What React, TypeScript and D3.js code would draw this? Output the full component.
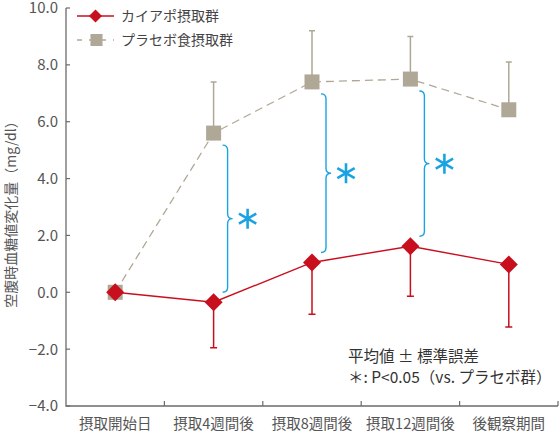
import { useEffect, useRef } from 'react';
import * as d3 from 'd3';

// values
const categories = ['摂取開始日', '摂取4週間後', '摂取8週間後', '摂取12週間後', '後観察期間'];
const kaiapoMean = [0, -0.35, 1.05, 1.62, 0.98];
const kaiapoErr = [0, 1.6, 1.82, 1.76, 2.2];
const placeboMean = [0, 5.6, 7.4, 7.5, 6.42];
const placeboErr = [0, 1.8, 1.8, 1.5, 1.68];
const yTicks = [-4, -2, 0, 2, 4, 6, 8, 10];
// indices of time points with a significant difference
const significant = [1, 2, 3];

const RED = '#c80f1e';
const GREY = '#b0a897';
const BLUE = '#1aa3e3';
const FONT = "'Noto Sans CJK JP', 'Noto Sans', sans-serif";

const App = () => {
  const svgRef = useRef<SVGSVGElement>(null);

  useEffect(() => {
    if (!svgRef.current) return;
    d3.select(svgRef.current).selectAll('*').remove();

    const width = 560;
    const height = 436;
    const svg = d3.select(svgRef.current).attr('width', width).attr('height', height);

    const x = d3.scaleBand<string>().domain(categories).range([66, 558]).padding(0);
    const cx = (i: number) => x(categories[i])! + x.bandwidth() / 2;
    const y = d3.scaleLinear().domain([-4, 10]).range([406, 8]);

    // axes
    const axisColor = '#6b6b6b';
    svg
      .append('path')
      .attr('d', `M${x.range()[0]},${y(10)}V${y(-4)}H${x.range()[1]}`)
      .attr('fill', 'none')
      .attr('stroke', axisColor)
      .attr('stroke-width', 1.3);

    svg
      .selectAll('.ytick')
      .data(yTicks)
      .enter()
      .append('line')
      .attr('x1', 66)
      .attr('x2', 70)
      .attr('y1', (d) => y(d))
      .attr('y2', (d) => y(d))
      .attr('stroke', axisColor)
      .attr('stroke-width', 1.2);

    svg
      .selectAll('.ylabel')
      .data(yTicks)
      .enter()
      .append('text')
      .attr('x', 58)
      .attr('y', (d) => y(d))
      .attr('dy', '0.36em')
      .attr('text-anchor', 'end')
      .attr('font-family', FONT)
      .attr('font-size', 15)
      .attr('fill', '#555')
      .text((d) => d3.format('.1f')(d));

    svg
      .selectAll('.xtick')
      .data(categories.slice(1).concat(['end']))
      .enter()
      .append('line')
      .attr('x1', (_, i) => x(categories[0])! + x.bandwidth() * (i + 1))
      .attr('x2', (_, i) => x(categories[0])! + x.bandwidth() * (i + 1))
      .attr('y1', y(-4))
      .attr('y2', y(-4) - 5)
      .attr('stroke', axisColor)
      .attr('stroke-width', 1.2);

    svg
      .selectAll('.xlabel')
      .data(categories)
      .enter()
      .append('text')
      .attr('x', (_, i) => cx(i))
      .attr('y', 424)
      .attr('dy', '0.36em')
      .attr('text-anchor', 'middle')
      .attr('font-family', FONT)
      .attr('font-size', 14.5)
      .attr('fill', '#555')
      .text((d) => d);

    svg
      .append('text')
      .attr('transform', `translate(11,211) rotate(-90)`)
      .attr('dy', '0.36em')
      .attr('text-anchor', 'middle')
      .attr('font-family', FONT)
      .attr('font-size', 14)
      .attr('fill', '#555')
      .text('空腹時血糖値変化量（mg/dl）');

    // placebo series
    const line = d3
      .line<number>()
      .x((_, i) => cx(i))
      .y((d) => y(d));

    svg
      .append('path')
      .attr('d', line(placeboMean))
      .attr('fill', 'none')
      .attr('stroke', GREY)
      .attr('stroke-width', 1.3)
      .attr('stroke-dasharray', '8,5');

    placeboMean.forEach((m, i) => {
      if (placeboErr[i] === 0) return;
      const top = y(m + placeboErr[i]);
      svg
        .append('path')
        .attr('d', `M${cx(i)},${y(m)}V${top}M${cx(i) - 3},${top}H${cx(i) + 3}`)
        .attr('stroke', GREY)
        .attr('stroke-width', 1.5)
        .attr('fill', 'none');
    });

    svg
      .selectAll('.sq')
      .data(placeboMean)
      .enter()
      .append('rect')
      .attr('x', (_, i) => cx(i) - 7.5)
      .attr('y', (d) => y(d) - 7.5)
      .attr('width', 15)
      .attr('height', 15)
      .attr('fill', GREY);

    // kaiapo series
    svg
      .append('path')
      .attr('d', line(kaiapoMean))
      .attr('fill', 'none')
      .attr('stroke', RED)
      .attr('stroke-width', 1.4);

    kaiapoMean.forEach((m, i) => {
      if (kaiapoErr[i] === 0) return;
      const bottom = y(m - kaiapoErr[i]);
      svg
        .append('path')
        .attr('d', `M${cx(i)},${y(m)}V${bottom}M${cx(i) - 3.5},${bottom}H${cx(i) + 3.5}`)
        .attr('stroke', RED)
        .attr('stroke-width', 1.5)
        .attr('fill', 'none');
    });

    const diamond = (px: number, py: number, r: number) =>
      `M${px},${py - r}L${px + r},${py}L${px},${py + r}L${px - r},${py}Z`;

    svg
      .selectAll('.dia')
      .data(kaiapoMean)
      .enter()
      .append('path')
      .attr('d', (d, i) => diamond(cx(i), y(d), 9))
      .attr('fill', RED);

    // significance braces and asterisks
    significant.forEach((i) => {
      const bx = cx(i) + 14;
      const top = y(placeboMean[i]) + 12;
      const bottom = y(kaiapoMean[i]) - 10;
      const mid = (top + bottom) / 2;
      const r = 5;
      const d =
        `M${bx - r},${top}Q${bx},${top} ${bx},${top + r}` +
        `V${mid - r}Q${bx},${mid} ${bx + r},${mid}` +
        `Q${bx},${mid} ${bx},${mid + r}` +
        `V${bottom - r}Q${bx},${bottom} ${bx - r},${bottom}`;
      svg
        .append('path')
        .attr('d', d)
        .attr('fill', 'none')
        .attr('stroke', BLUE)
        .attr('stroke-width', 1.4);

      const ax = bx + 20;
      const len = 10;
      const star = [90, 30, 150]
        .map((a) => {
          const rad = (a * Math.PI) / 180;
          const dx = Math.cos(rad) * len;
          const dy = Math.sin(rad) * len;
          return `M${ax - dx},${mid - dy}L${ax + dx},${mid + dy}`;
        })
        .join('');
      svg
        .append('path')
        .attr('d', star)
        .attr('stroke', BLUE)
        .attr('stroke-width', 2.6)
        .attr('fill', 'none');
    });

    // legend
    const legend = svg.append('g');
    legend
      .append('line')
      .attr('x1', 77)
      .attr('x2', 114)
      .attr('y1', 16)
      .attr('y2', 16)
      .attr('stroke', RED)
      .attr('stroke-width', 1.4);
    legend.append('path').attr('d', diamond(95.5, 16, 6.5)).attr('fill', RED);
    legend
      .append('line')
      .attr('x1', 77)
      .attr('x2', 114)
      .attr('y1', 40)
      .attr('y2', 40)
      .attr('stroke', GREY)
      .attr('stroke-width', 1.3)
      .attr('stroke-dasharray', '5,7');
    legend
      .append('rect')
      .attr('x', 90.5)
      .attr('y', 34)
      .attr('width', 12)
      .attr('height', 12)
      .attr('fill', GREY);
    legend
      .selectAll('text')
      .data(['カイアポ摂取群', 'プラセボ食摂取群'])
      .enter()
      .append('text')
      .attr('x', 121)
      .attr('y', (_, i) => 16 + i * 24)
      .attr('dy', '0.36em')
      .attr('font-family', FONT)
      .attr('font-size', 14)
      .attr('fill', '#444')
      .text((d) => d);

    // notes
    svg
      .selectAll('.note')
      .data(['平均値 ± 標準誤差', '＊: P<0.05（vs. プラセボ群）'])
      .enter()
      .append('text')
      .attr('x', 348)
      .attr('y', (_, i) => 356 + i * 21)
      .attr('dy', '0.36em')
      .attr('font-family', FONT)
      .attr('font-size', 15.5)
      .attr('fill', '#333')
      .text((d) => d);
  }, []);

  return (
    <svg
      ref={svgRef}
      style={{ position: 'absolute', left: 0, top: 0, display: 'block', background: '#fff' }}
    ></svg>
  );
};

export default App;
